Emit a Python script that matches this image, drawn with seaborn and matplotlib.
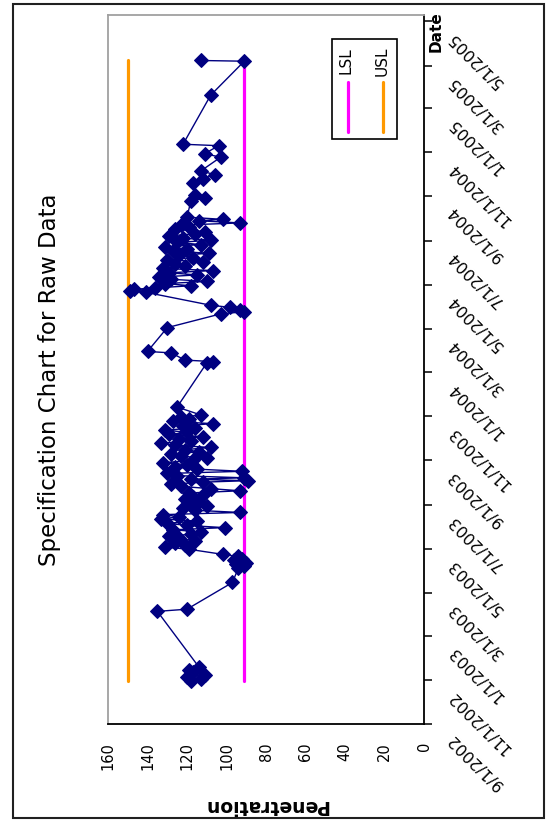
import pandas as pd
import matplotlib
matplotlib.use("Agg")
import matplotlib.pyplot as plt
import matplotlib.transforms as mtransforms
from matplotlib.patches import Rectangle
import seaborn as sns

# Raw penetration readings
dates = [
    "2002-10-30", "2002-11-02", "2002-11-05", "2002-11-08", "2002-11-12", "2002-11-15", "2002-11-19",
    "2003-02-04", "2003-02-07", "2003-03-16",
    "2003-04-05", "2003-04-08", "2003-04-10", "2003-04-12", "2003-04-14", "2003-04-16", "2003-04-18",
    "2003-04-21", "2003-04-24", "2003-05-01",
    "2003-05-04", "2003-05-07", "2003-05-10", "2003-05-13", "2003-05-16", "2003-05-19", "2003-05-22",
    "2003-05-25", "2003-05-28", "2003-05-31", "2003-06-03", "2003-06-06", "2003-06-09", "2003-06-12",
    "2003-06-15", "2003-06-18", "2003-06-21", "2003-06-24", "2003-06-27", "2003-06-30", "2003-07-03",
    "2003-07-06", "2003-07-09", "2003-07-12", "2003-07-15", "2003-07-18", "2003-07-21", "2003-07-24",
    "2003-07-27", "2003-07-30", "2003-08-02", "2003-08-04", "2003-08-06", "2003-08-08", "2003-08-11",
    "2003-08-14", "2003-08-17", "2003-08-20", "2003-08-23", "2003-08-26", "2003-08-29", "2003-09-01",
    "2003-09-04", "2003-09-07", "2003-09-10", "2003-09-13", "2003-09-16", "2003-09-19", "2003-09-22",
    "2003-09-25", "2003-09-28", "2003-10-01", "2003-10-04", "2003-10-07", "2003-10-10", "2003-10-13",
    "2003-10-16", "2003-10-19", "2003-10-22", "2003-10-25", "2003-10-28", "2003-10-31", "2003-11-03",
    "2003-11-14",
    "2004-01-14", "2004-01-16", "2004-01-18", "2004-01-28", "2004-01-30", "2004-03-03",
    "2004-03-22", "2004-03-25", "2004-03-28", "2004-03-31", "2004-04-03",
    "2004-04-21", "2004-04-23", "2004-04-25",
    "2004-04-27", "2004-04-30", "2004-05-03", "2004-05-06", "2004-05-09", "2004-05-12", "2004-05-15",
    "2004-05-18", "2004-05-21", "2004-05-24", "2004-05-27", "2004-05-30", "2004-06-02", "2004-06-05",
    "2004-06-08", "2004-06-11", "2004-06-14", "2004-06-17", "2004-06-20", "2004-06-23", "2004-06-26",
    "2004-06-29", "2004-07-02", "2004-07-05", "2004-07-08", "2004-07-11", "2004-07-14", "2004-07-17",
    "2004-07-20", "2004-07-23", "2004-07-26", "2004-07-29", "2004-07-31", "2004-08-03",
    "2004-08-26", "2004-08-29", "2004-09-02", "2004-09-20", "2004-09-25", "2004-10-01", "2004-10-06",
    "2004-10-25", "2004-10-30", "2004-11-10", "2004-11-12",
    "2005-01-19", "2005-03-07", "2005-03-08",
]
penetration = [
    118, 113, 120, 111, 117, 119, 114,
    135, 120, 97,
    94, 91, 95, 90, 93, 96, 92,
    94, 102, 119,
    131, 121, 126, 116, 124, 129, 118,
    113, 127, 101, 120, 130, 115, 133,
    124, 132, 93, 116, 122, 110, 118,
    114, 121, 117, 112, 119, 93, 108,
    123, 128, 112, 89, 118, 91, 125,
    130, 92, 115, 126, 120, 132, 117,
    110, 123, 128, 114, 121, 108, 126,
    133, 118, 124, 112, 129, 120, 131,
    116, 122, 107, 127, 119, 123, 113,
    125,
    110, 107, 121, 128, 140, 130,
    103, 91, 93, 98, 108,
    141, 149, 147,
    136, 118, 131, 110, 128, 134, 115,
    129, 107, 132, 121, 126, 112, 130,
    117, 124, 109, 127, 120, 131, 113,
    125, 108, 122, 129, 116, 111, 126,
    119, 123, 93, 114, 102, 120,
    118, 111, 116, 117, 112, 106, 113,
    103, 111, 104, 122,
    108, 91, 113,
]

lsl = 91
usl = 150
spec_dates = ["2002-10-30", "2005-03-08"]

value_ticks = [0, 20, 40, 60, 80, 100, 120, 140, 160]
date_ticks = ["9/1/2002", "11/1/2002", "1/1/2003", "3/1/2003", "5/1/2003", "7/1/2003",
              "9/1/2003", "11/1/2003", "1/1/2004", "3/1/2004", "5/1/2004", "7/1/2004",
              "9/1/2004", "11/1/2004", "1/1/2005", "3/1/2005", "5/1/2005"]

df = pd.DataFrame({"date": pd.to_datetime(dates), "penetration": penetration})
spec = pd.DataFrame({"date": pd.to_datetime(spec_dates),
                     "lsl": [lsl, lsl], "usl": [usl, usl]})

sns.set_style("white")
plt.rcParams["font.family"] = ["DejaVu Sans"]
plt.rcParams["text.color"] = "black"
plt.rcParams["xtick.color"] = "black"
plt.rcParams["ytick.color"] = "black"

fig = plt.figure(figsize=(5.55, 8.24), dpi=100)
# whole chart is turned a quarter turn: value axis runs along the bottom, dates up the right
ax = fig.add_axes([108 / 555, 100 / 824, 316 / 555, 709 / 824])

sns.lineplot(data=spec, x="usl", y="date", orient="y", sort=False, estimator=None,
             color="#FF9900", linewidth=2.3, ax=ax)
sns.lineplot(data=spec, x="lsl", y="date", orient="y", sort=False, estimator=None,
             color="#FF00FF", linewidth=2.3, ax=ax)
sns.lineplot(data=df, x="penetration", y="date", orient="y", sort=False, estimator=None,
             color="#000080", linewidth=1.0, marker="D", markersize=7,
             markeredgecolor="#000080", markerfacecolor="#000080", ax=ax)

ax.set_xlim(160, 0)
ax.set_xticks(value_ticks)
ax.set_xticklabels([str(v) for v in value_ticks], rotation=90, fontsize=10.5,
                   ha="center", va="top", color="black")

ax.set_ylim(pd.Timestamp("2002-09-01"), pd.Timestamp("2005-05-10"))
ax.yaxis.tick_right()
ax.set_yticks(pd.to_datetime(date_ticks, format="%m/%d/%Y"))
ax.set_yticklabels(date_ticks, rotation=135, rotation_mode="anchor",
                   ha="right", va="center", fontsize=11.5, color="black")

ax.tick_params(axis="both", direction="out", length=6, width=1.1, color="black")
ax.tick_params(axis="x", pad=7)
ax.tick_params(axis="y", pad=13)
shift = mtransforms.ScaledTranslation(0, -9 / 72, fig.dpi_scale_trans)
for lbl in ax.get_yticklabels():
    lbl.set_transform(lbl.get_transform() + shift)

ax.set_xlabel("")
ax.set_ylabel("")
for side in ["left", "top"]:
    ax.spines[side].set_color("#A0A0A0")
    ax.spines[side].set_linewidth(1.3)
for side in ["right", "bottom"]:
    ax.spines[side].set_color("black")
    ax.spines[side].set_linewidth(1.3)

# legend box (turned with the chart)
ax.add_patch(Rectangle((0.709, 0.825), 0.206, 0.141, transform=ax.transAxes,
                       facecolor="white", edgecolor="black", linewidth=1.2, zorder=5))
ax.plot([0.759, 0.759], [0.835, 0.905], transform=ax.transAxes,
        color="#FF00FF", linewidth=2.3, zorder=6)
ax.plot([0.870, 0.870], [0.835, 0.905], transform=ax.transAxes,
        color="#FF9900", linewidth=2.3, zorder=6)
ax.text(0.752, 0.935, "LSL", transform=ax.transAxes, rotation=90,
        ha="center", va="center", fontsize=11, zorder=6)
ax.text(0.866, 0.935, "USL", transform=ax.transAxes, rotation=90,
        ha="center", va="center", fontsize=11, zorder=6)

fig.text(50 / 555, 1 - 380 / 824, "Specification Chart for Raw Data", rotation=90,
         ha="center", va="center", fontsize=16.5, color="black")
fig.text(266 / 555, 1 - 805 / 824, "Penetration", rotation=180,
         ha="center", va="center", fontsize=13.5, fontweight="bold", color="black")
fig.text(436 / 555, 1 - 32 / 824, "Date", rotation=90,
         ha="center", va="center", fontsize=11, fontweight="bold", color="black")

fig.add_artist(Rectangle((13 / 555, 1 - 818 / 824), 531 / 555, 814 / 824,
                         transform=fig.transFigure, fill=False,
                         edgecolor="#202020", linewidth=1.5))

fig.savefig("out.png", dpi=100)
